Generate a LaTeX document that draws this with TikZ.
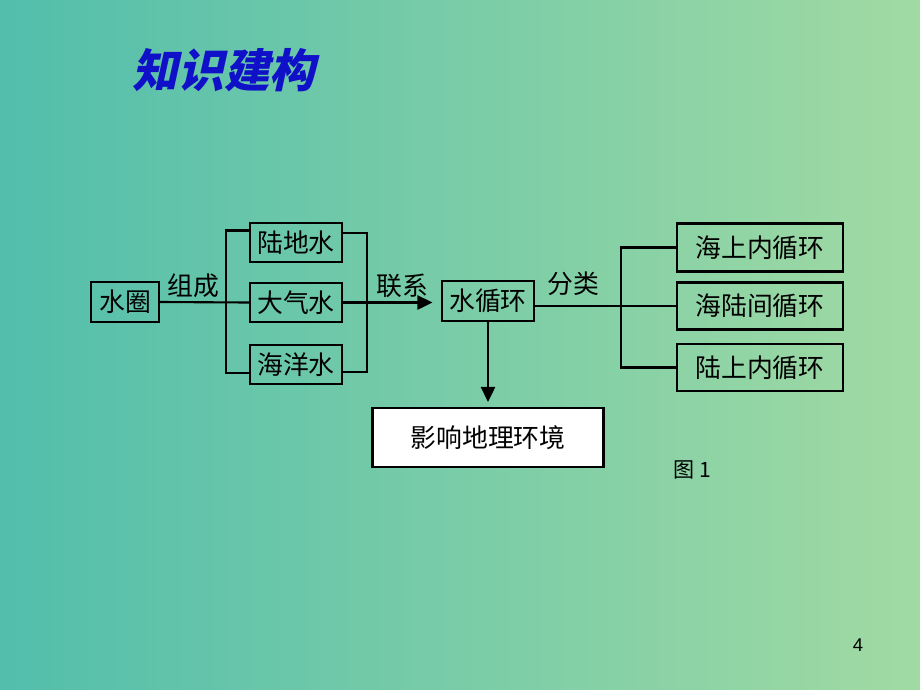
\documentclass[tikz,border=0pt]{standalone}
\usepackage{fontspec}
\newfontfamily\cjk{Noto Sans CJK SC}
\newfontfamily\titlefont[FakeSlant=0.22]{Noto Sans CJK SC}
\setsansfont{Liberation Sans}
\usetikzlibrary{calc,arrows.meta}
\definecolor{bgleft}{RGB}{82,190,172}
\definecolor{bgright}{RGB}{161,218,163}
\definecolor{titleblue}{RGB}{16,16,200}
\tikzset{
  box/.style={draw,line width=1.2pt,inner sep=0pt,font=\cjk\fontsize{14.7}{16}\selectfont},
  lbl/.style={font=\cjk\fontsize{14.7}{16}\selectfont},
  arr/.style={-{Triangle[length=0.3cm,width=0.28cm]}}
}

\begin{document}
\begin{tikzpicture}[x=0.02cm,y=-0.02cm,line width=1.2pt]

  \shade[left color=bgleft,right color=bgright] (0,0) rectangle (920,690);
  \useasboundingbox (0,0) rectangle (920,690);

  \node[font=\titlefont\bfseries\fontsize{26}{28}\selectfont,text=titleblue] (title) at (224,70) {知识建构};

  \node[box,minimum width=1.36cm,minimum height=0.8cm] (quan) at (125,302) {水圈};
  \node[box,minimum width=1.84cm,minimum height=0.78cm] (ludi) at (296,242.5) {陆地水};
  \node[box,minimum width=1.84cm,minimum height=0.78cm] (daqi) at (296,302.5) {大气水};
  \node[box,minimum width=1.84cm,minimum height=0.78cm] (haiyang) at (296,364.5) {海洋水};
  \node[box,minimum width=1.84cm,minimum height=0.8cm] (xhh) at (488,301) {水循环};

  \node[box,minimum width=3.32cm,minimum height=0.96cm] (haishang) at (760,247.5) {海上内循环};
  \node[box,minimum width=3.32cm,minimum height=0.94cm] (hailu) at (760,306) {海陆间循环};
  \node[box,minimum width=3.32cm,minimum height=0.94cm] (lushang) at (760,367.5) {陆上内循环};

  \node[box,fill=white,minimum width=4.62cm,minimum height=1.18cm] (yingxiang) at (488,437.5) {影响地理环境};

  \node[lbl] (zucheng) at (193,286) {组成};
  \node[lbl] (lianxi) at (402,286) {联系};
  \node[lbl] (fenlei) at (573,284) {分类};

  % brackets
  \coordinate (lbt) at (226,230.5);
  \coordinate (lbb) at (226,372.7);
  \coordinate (rbt) at (367,233);
  \coordinate (rbb) at (367,371.7);
  \coordinate (rc) at (621,306);

  \draw (quan.east) -- (daqi.west);
  \draw (ludi.west |- lbt) -- (lbt) -- (lbb) -- (haiyang.west |- lbb);
  \draw (ludi.east |- rbt) -- (rbt) -- (rbb) -- (haiyang.east |- rbb);
  \draw[arr,line width=1.5pt,shorten >=0.17cm] (daqi.east) -- (xhh.west |- daqi.east);

  \draw (xhh.east |- hailu) -- (hailu.west);
  \draw (haishang.west) -| (rc) |- (lushang.west);
  \draw[arr,line width=1.5pt,shorten >=0.1cm] (xhh.south) -- (yingxiang.north);

  \node[font=\cjk\fontsize{12}{14}\selectfont] (tu) at (692,470) {图 1};
  \node[font=\sffamily\fontsize{10.5}{12}\selectfont] (page) at (858,645) {4};
\end{tikzpicture}
\end{document}
